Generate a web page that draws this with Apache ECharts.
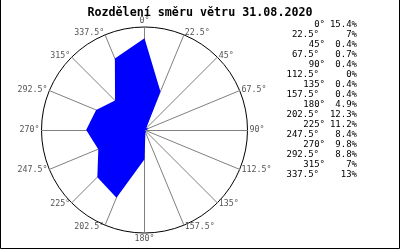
<!DOCTYPE html>
<html><head><meta charset="utf-8">
<script src="https://cdn.jsdelivr.net/npm/echarts@6/dist/echarts.min.js"></script>
<style>html,body{margin:0;padding:0;background:#fff}#c{width:400px;height:250px}</style>
</head><body><div id="c"></div>
<script>
var title = 'Rozdělení směru větru 31.08.2020';
var directions = ['0','22.5','45','67.5','90','112.5','135','157.5','180','202.5','225','247.5','270','292.5','315','337.5'];
var percents = [15.4, 7, 0.4, 0.7, 0.4, 0, 0.4, 0.4, 4.9, 12.3, 11.2, 8.4, 9.8, 8.8, 7, 13];
var radialMax = 17.3;

var chart = echarts.init(document.getElementById('c'), null, {renderer: 'canvas'});
var mono = 'DejaVu Sans Mono';

// order indicators so that the rose runs clockwise from north
var order = [0];
for (var i = directions.length - 1; i >= 1; i--) order.push(i);
var indicators = order.map(function (i) { return {name: directions[i] + '°', max: radialMax, min: 0}; });
var values = order.map(function (i) { return percents[i]; });

var graphics = [];
directions.forEach(function (d, i) {
  var y = 25 + i * 10;
  var degRight = d.indexOf('.') >= 0 ? 319 : 325;
  graphics.push({type: 'text', x: degRight, y: y, style: {text: d + '°', font: '9px "' + mono + '"', fill: '#000', textAlign: 'right', textVerticalAlign: 'middle'}});
  graphics.push({type: 'text', x: 357, y: y, style: {text: percents[i] + '%', font: '9px "' + mono + '"', fill: '#000', textAlign: 'right', textVerticalAlign: 'middle'}});
});
graphics.push({type: 'polyline', shape: {points: [[0.5, 0], [0.5, 248.5], [399.5, 248.5], [399.5, 0]]}, style: {stroke: '#000', lineWidth: 1, fill: null}});

chart.setOption({
  animation: false,
  backgroundColor: '#fff',
  title: {text: title, left: 'center', top: 2, textStyle: {fontFamily: mono, fontSize: 11.7, fontWeight: 'bold', color: '#000'}},
  radar: {
    center: [144.5, 130],
    radius: 103,
    startAngle: 90,
    shape: 'circle',
    splitNumber: 1,
    indicator: indicators,
    axisName: {color: '#555', fontFamily: mono, fontSize: 8.3},
    nameGap: 2,
    axisLine: {lineStyle: {color: '#808080', width: 1}},
    splitLine: {lineStyle: {color: '#000', width: 1}},
    splitArea: {show: false},
    axisTick: {show: false},
    axisLabel: {show: false}
  },
  series: [{
    type: 'radar',
    symbol: 'none',
    lineStyle: {width: 0},
    areaStyle: {color: '#0000ff', opacity: 1},
    data: [{value: values}]
  }],
  graphic: graphics
});
</script></body></html>
